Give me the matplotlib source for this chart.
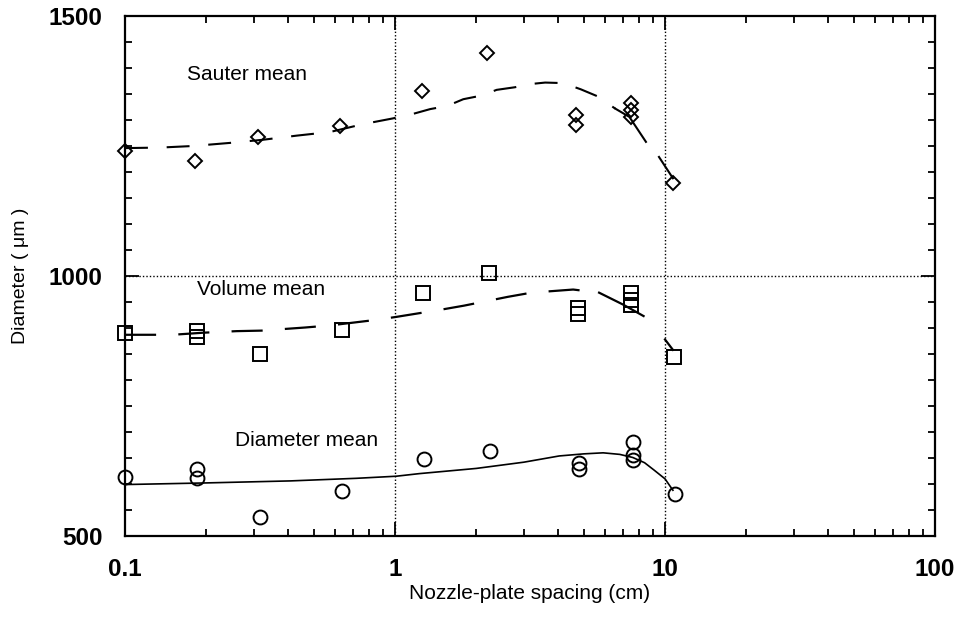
import matplotlib
matplotlib.use("Agg")
import matplotlib.pyplot as plt
from matplotlib.ticker import FixedLocator, LogLocator, NullFormatter, MultipleLocator

plt.rcParams['font.family'] = ['Liberation Sans', 'DejaVu Sans']

# Measured drop sizes (um) versus nozzle-plate spacing (cm)
sauter_x = [0.1, 0.181, 0.31, 0.625, 1.256, 2.19, 4.68, 4.68, 7.5, 7.5, 7.5, 10.75]
sauter_y = [1240, 1221, 1268, 1288, 1356, 1429, 1310, 1290, 1332, 1319, 1305, 1178]

volume_x = [0.1, 0.184, 0.184, 0.316, 0.635, 1.27, 2.22, 4.75, 4.75, 7.5, 7.5, 7.5, 10.83]
volume_y = [891, 894, 883, 851, 896, 968, 1005, 938, 927, 967, 953, 945, 845]

diam_x = [0.1, 0.184, 0.184, 0.316, 0.635, 1.28, 2.24, 4.8, 4.8, 7.6, 7.6, 7.6, 10.9]
diam_y = [614, 629, 611, 536, 587, 649, 664, 641, 628, 680, 656, 647, 581]

# Fitted trend curves
sauter_fit_x = [0.1, 0.135, 0.178, 0.245, 0.324, 0.433, 0.575, 0.76, 0.98, 1.17,
                1.35, 1.56, 1.79, 2.09, 2.38, 2.78, 3.15, 3.6, 4.2, 4.88, 5.6, 6.54]
sauter_fit_y = [1246, 1247, 1250, 1256, 1262, 1270, 1277, 1292, 1303, 1312,
                1321, 1327, 1340, 1347, 1358, 1363, 1369, 1372, 1371, 1359, 1346, 1322]
sauter_tail_x = [6.54, 7.38, 8.5, 9.5, 10.7]
sauter_tail_y = [1322, 1306, 1258, 1229, 1188]

volume_fit_x = [0.1, 0.15, 0.195, 0.259, 0.32, 0.465, 0.575, 0.83, 1.0, 1.47, 1.8,
                2.62, 3.2, 4.57, 5.7]
volume_fit_y = [887, 887, 891, 894, 895, 901, 905, 915, 921, 935, 943,
                960, 968, 974, 968]
volume_tail_x = [5.7, 7.0, 8.33]
volume_tail_y = [968, 945, 923]
volume_end_x = [10.0, 10.7]
volume_end_y = [878, 858]

diam_fit_x = [0.1, 0.195, 0.41, 0.72, 1.01, 1.23, 2.0, 3.0, 4.06, 5.0, 5.9, 6.8, 7.6, 8.4, 9.1, 10.0, 10.7]
diam_fit_y = [599, 602, 606, 611, 615, 620, 630, 642, 654, 658, 660, 657, 651, 641, 627, 610, 588]

fig = plt.figure(figsize=(9.66, 6.23), dpi=100)
ax = fig.add_axes([0.1294, 0.1396, 0.8385, 0.8347])

ax.set_xscale('log')
ax.set_xlim(0.1, 100)
ax.set_ylim(500, 1500)

# trend curves
ax.plot(sauter_fit_x, sauter_fit_y, color='black', lw=1.5, dashes=(11, 9))
ax.plot(sauter_tail_x[:3], sauter_tail_y[:3], color='black', lw=1.5)
ax.plot(sauter_tail_x[3:], sauter_tail_y[3:], color='black', lw=1.5)
ax.plot(volume_fit_x, volume_fit_y, color='black', lw=1.6, dashes=(14, 10))
ax.plot(volume_tail_x, volume_tail_y, color='black', lw=1.6)
ax.plot(volume_end_x, volume_end_y, color='black', lw=1.6)
ax.plot(diam_fit_x, diam_fit_y, color='black', lw=1.2)

# data points
mk = dict(linestyle='none', markerfacecolor='none', markeredgecolor='black',
          markeredgewidth=1.4, clip_on=False, zorder=5)
ax.plot(sauter_x, sauter_y, marker='D', markersize=7, **mk)
ax.plot(volume_x, volume_y, marker='s', markersize=9.5, **mk)
ax.plot(diam_x, diam_y, marker='o', markersize=10, **mk)

# labels on the curves
ax.text(0.1697, 1387, 'Sauter mean', fontsize=15, va='center', ha='left')
ax.text(0.1848, 974, 'Volume mean', fontsize=15, va='center', ha='left')
ax.text(0.2557, 683, 'Diameter mean', fontsize=15, va='center', ha='left')

# grid: dotted lines at the interior major ticks
for xv in (1, 10):
    ax.axvline(xv, color='black', lw=1.0, linestyle=(0, (1, 1.5)), zorder=1)
ax.axhline(1000, color='black', lw=1.0, linestyle=(0, (1, 1.5)), zorder=1)

ax.xaxis.set_major_locator(FixedLocator([0.1, 1, 10, 100]))
ax.xaxis.set_minor_locator(LogLocator(base=10, subs=range(2, 10)))
ax.xaxis.set_minor_formatter(NullFormatter())
ax.set_xticklabels(['0.1', '1', '10', '100'])
ax.yaxis.set_major_locator(FixedLocator([500, 1000, 1500]))
ax.yaxis.set_minor_locator(MultipleLocator(50))

ax.tick_params(which='both', direction='in', top=True, right=True, width=1.3)
ax.tick_params(which='major', length=10, labelsize=17.5, pad=16)
ax.tick_params(which='minor', length=5)
for lab in ax.get_xticklabels() + ax.get_yticklabels():
    lab.set_fontweight('bold')

for sp in ax.spines.values():
    sp.set_linewidth(1.6)

ax.set_xlabel('Nozzle-plate spacing (cm)', fontsize=15, labelpad=2)
ax.set_ylabel('Diameter ( μm )', fontsize=14, labelpad=14)

fig.savefig('out.png', dpi=100)
